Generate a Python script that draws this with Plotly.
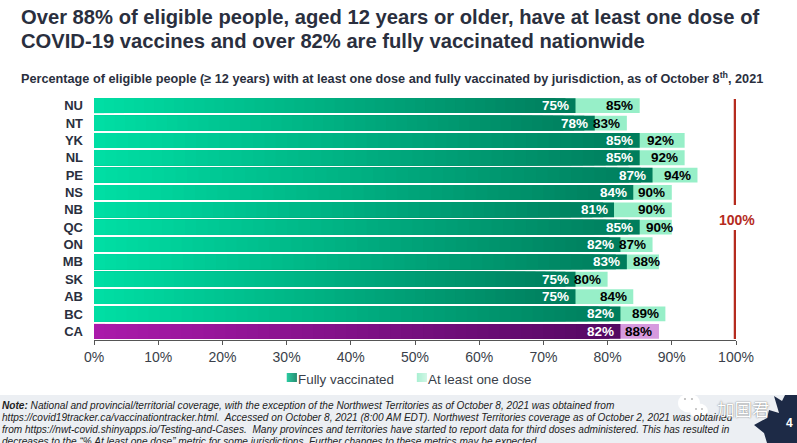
import plotly.graph_objects as go

jurisdictions = ["NU","NT","YK","NL","PE","NS","NB","QC","ON","MB","SK","AB","BC","CA"]
fully = [75,78,85,85,87,84,81,85,82,83,75,75,82,82]
one_dose = [85,83,92,92,94,90,90,90,87,88,80,84,89,88]
ticks = list(range(0,101,10))
title_lines = ["Over 88% of eligible people, aged 12 years or older, have at least one dose of",
               "COVID-19 vaccines and over 82% are fully vaccinated nationwide"]
subtitle = "Percentage of eligible people (≥ 12 years) with at least one dose and fully vaccinated by jurisdiction, as of October 8<sup>th</sup>, 2021"
note_lines = ["<b>Note:</b> National and provincial/territorial coverage, with the exception of the Northwest Territories as of October 8, 2021 was obtained from",
        "https://covid19tracker.ca/vaccinationtracker.html.  Accessed on October 8, 2021 (8:00 AM EDT). Northwest Territories coverage as of October 2, 2021 was obtained",
        "from https://nwt-covid.shinyapps.io/Testing-and-Cases.  Many provinces and territories have started to report data for third doses administered. This has resulted in",
        "decreases to the “% At least one dose” metric for some jurisdictions. Further changes to these metrics may be expected."]
series_names = ["Fully vaccinated","At least one dose"]

W,H = 797,443
L,R,T,B = 94.3,736,97,340
FONT = "Liberation Sans"
DARK = "#2a2f3e"
RED = "#b52b1e"
LABEL_SHIFT = {"YK":-10,"QC":2,"MB":2}

def px(x): return (x-L)/(R-L)
def py(y): return (B-y)/(B-T)
def lerp(a,b,t):
    return "rgb(%d,%d,%d)"%tuple(round(a[i]+(b[i]-a[i])*t) for i in range(3))
G0,G1=(0,222,164),(0,125,92)
P0,P1=(170,26,170),(84,8,98)
LG,LP="#97efc8","#d69ade"

fig = go.Figure()
fig.add_bar(y=jurisdictions,x=one_dose,orientation="h",
            marker=dict(color=[LP if j=="CA" else LG for j in jurisdictions],line_width=0),
            showlegend=False,hoverinfo="skip")
N=48
for k in range(N,0,-1):
    t=(k-1)/(N-1)
    fig.add_bar(y=jurisdictions,x=[v*k/N for v in fully],orientation="h",
                marker=dict(color=[lerp(P0,P1,t) if j=="CA" else lerp(G0,G1,t) for j in jurisdictions],line_width=0),
                showlegend=False,hoverinfo="skip")

def rect(x0,y0,x1,y1,color,layer="above"):
    return dict(type="rect",xref="paper",yref="paper",x0=px(x0),x1=px(x1),y0=py(y1),y1=py(y0),fillcolor=color,line_width=0,layer=layer)
def circle(x,y,rx,ry,color):
    return dict(type="circle",xref="paper",yref="paper",x0=px(x-rx),x1=px(x+rx),y0=py(y+ry),y1=py(y-ry),fillcolor=color,line_width=0)
def text(s,x,y,size,color=DARK,anchor="left",weight=None,family=None,shadow=None):
    f=dict(size=size,color=color)
    if weight: f["weight"]=weight
    if family: f["family"]=family
    if shadow: f["shadow"]=shadow
    return dict(text=s,xref="paper",yref="paper",x=px(x),y=py(y),xanchor=anchor,yanchor="middle",align=anchor,
                showarrow=False,font=f,borderpad=0,borderwidth=0)

shapes=[rect(0,395,W,H,"#eceff3","below"),
        dict(type="line",xref="x",yref="paper",x0=99.85,x1=99.85,y0=py(205),y1=py(99),line=dict(color=RED,width=2.6)),
        dict(type="line",xref="x",yref="paper",x0=99.85,x1=99.85,y0=py(339),y1=py(230),line=dict(color=RED,width=2.6))]
# legend swatches with the same fade as the bars
M=10
for i in range(M):
    t=i/(M-1)
    shapes.append(rect(287+i,373,288+i,382,lerp((0,190,140),(0,125,92),t)))
    shapes.append(rect(417+i,373,418+i,382,lerp((200,245,225),(160,238,205),1-t)))
# maple leaf and WeChat-style mark
leaf=[(774,396),(782,401),(785,395),(797,395),(797,443),(767,443),(764,433),(754,425),(767,418),(769,410),(779,413)]
path="M "+" L ".join(f"{px(x):.5f},{py(y):.5f}" for x,y in leaf)+" Z"
shapes.append(dict(type="path",xref="paper",yref="paper",path=path,fillcolor="#1d2a46",line_width=0))
shapes += [circle(689,403,11,9.5,"rgba(255,255,255,0.97)"),circle(699,411,9,7.5,"rgba(255,255,255,0.97)"),
           circle(685,399,1.1,1.1,"#bbb"),circle(692,399,1.1,1.1,"#bbb"),circle(696,409,1,1,"#bbb"),circle(702,409,1,1,"#bbb")]

anns=[text(title_lines[0],21,17,20.2,weight="bold"),
      text(title_lines[1],21,41,20.2,weight="bold"),
      text(subtitle,21,78,12.7,weight="bold"),
      text("<b>100%</b>",737,220,14,color=RED,anchor="center")]
for i,s in enumerate(note_lines):
    anns.append(text("<i>"+s+"</i>",2,405+12*i,10.1,color="#222"))
anns += [text(series_names[0],298,379,13.4,color="#3a3f4a"),
         text(series_names[1],428,379,13.4,color="#3a3f4a"),
         text("加国君",743.5,408,17.5,color="#ffffff",anchor="center",family="Noto Sans CJK SC",shadow="0 0 1.5px #555"),
         text("<b>4</b>",789,423,12,color="white",anchor="center")]
for j,f,o in zip(jurisdictions,fully,one_dose):
    anns.append(dict(text=f"<b>{f}%</b>",xref="x",yref="y",x=f,y=j,xanchor="right",xshift=-5.5,showarrow=False,borderpad=0,
                     font=dict(size=13.5,color="white")))
    anns.append(dict(text=f"<b>{o}%</b>",xref="x",yref="y",x=o,y=j,xanchor="right",xshift=LABEL_SHIFT.get(j,-5.5),showarrow=False,borderpad=0,
                     font=dict(size=13.5,color="black")))

fig.update_layout(width=W,height=H,margin=dict(l=L,r=W-R,t=T,b=H-B,autoexpand=False),
    barmode="overlay",bargap=0.15,plot_bgcolor="white",paper_bgcolor="white",showlegend=False,
    font=dict(family=FONT,color=DARK),shapes=shapes,annotations=anns,
    xaxis=dict(range=[0,100],tickvals=ticks,ticktext=[f"{t}%" for t in ticks],ticks="outside",ticklen=4,tickcolor="#555",
               showgrid=False,zeroline=False,showline=True,linecolor="#555",linewidth=1,tickfont=dict(size=14,color="#3a3f4a")),
    yaxis=dict(range=[13.5,-0.5],showgrid=False,zeroline=False,ticks="",ticklabelstandoff=10,showline=False,
               tickfont=dict(size=13,color=DARK,weight="bold")))
fig.write_html("out.html",config={"displayModeBar":False},post_script="document.body.style.margin='0';")
